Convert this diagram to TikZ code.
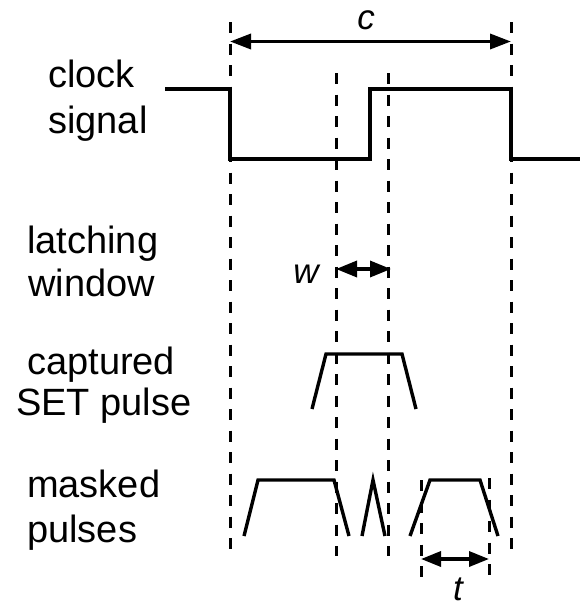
\documentclass[tikz,border=0pt]{standalone}
\usepackage{fontspec}
\setmainfont{Liberation Sans}
\usetikzlibrary{arrows.meta}
\begin{document}
\begin{tikzpicture}[x=1pt,y=-1pt,
  sig/.style={line width=3.4pt, line join=miter},
  guide/.style={line width=3pt, dash pattern=on 11pt off 10.5pt},
  dim/.style={line width=3.4pt, {Triangle[length=21pt,width=15pt]}-{Triangle[length=21pt,width=15pt]}},
  lbl/.style={anchor=base west, inner sep=0pt, font=\fontsize{38}{43}\selectfont},
  var/.style={anchor=base, inner sep=0pt, font=\fontsize{35}{40}\selectfont\itshape}]
\useasboundingbox (0,0) rectangle (581,608);
% labels
\node[lbl] (l1) at (48,87) {clock};
\node[lbl] (l2) at (48,133) {signal};
\node[lbl] (l3) at (27,253) {latching};
\node[lbl] (l4) at (28,296) {window};
\node[lbl] (l5) at (27,374) {captured};
\node[lbl] (l6) at (16,415) {SET pulse};
\node[lbl] (l7) at (27,497) {masked};
\node[lbl] (l8) at (27,542) {pulses};
% guide lines
\coordinate (g1a) at (230,22); \coordinate (g1b) at (230,552);
\coordinate (g2a) at (336,73); \coordinate (g2b) at (336,556);
\coordinate (g3a) at (388,73); \coordinate (g3b) at (388,556);
\coordinate (g4a) at (511,22); \coordinate (g4b) at (511,553);
\coordinate (t1a) at (421,480); \coordinate (t1b) at (421,582);
\coordinate (t2a) at (489,478); \coordinate (t2b) at (489,580);
\draw[guide] (g1a) -- (g1b);
\draw[guide] (g2a) -- (g2b);
\draw[guide] (g3a) -- (g3b);
\draw[guide] (g4a) -- (g4b);
\draw[guide] (t1a) -- (t1b);
\draw[guide] (t2a) -- (t2b);
% clock signal
\draw[sig] (165,89) -- (230,89) -- (230,159) -- (370,159) -- (370,89) -- (511,89) -- (511,159) -- (580,159);
% captured SET pulse
\draw[sig] (312,409) -- (326,354) -- (402,354) -- (416,409);
% masked pulses
\draw[sig] (244,536) -- (258,480) -- (334,480) -- (349,536);
\draw[sig] (362,536) -- (373,480) -- (385,536);
\draw[sig] (410,536) -- (430,480) -- (480,480) -- (498,536);
% dimension arrows
\coordinate (ca) at (230,41.5); \coordinate (cb) at (511,41.5);
\draw[dim] (ca) -- (cb);
\node[var] (c) at (366,29.5) {c};
\coordinate (wa) at (336,269); \coordinate (wb) at (391,269);
\draw[line width=3.4pt, {Triangle[length=21pt,width=16pt]}-{Triangle[length=21pt,width=16pt]}] (wa) -- (wb);
\node[var] (w) at (306,283) {w};
\coordinate (ta) at (421,559); \coordinate (tb) at (489,559);
\draw[line width=3.4pt, {Triangle[length=20pt,width=15pt]}-{Triangle[length=20pt,width=15pt]}] (ta) -- (tb);
\node[var] (t) at (458,600) {t};
\end{tikzpicture}
\end{document}
